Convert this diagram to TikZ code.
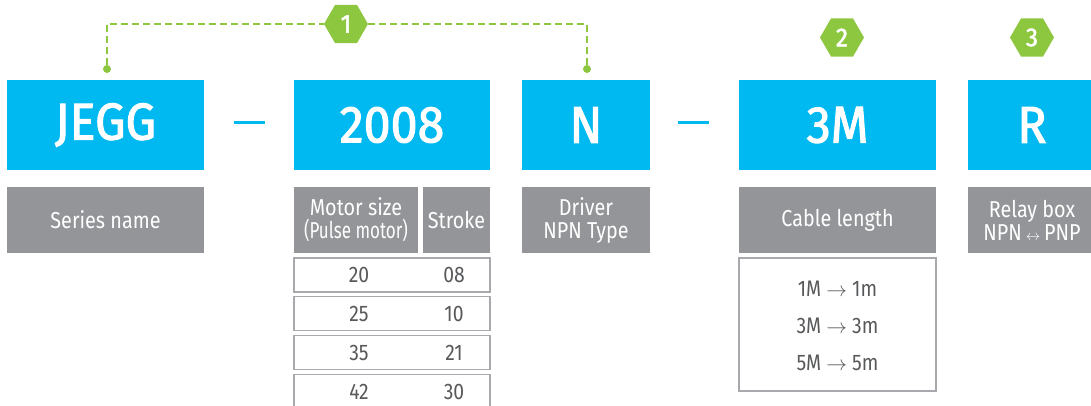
\documentclass[tikz,border=0pt]{standalone}
\usepackage{fontspec}
\setmainfont{Fira Sans}[FakeStretch=0.86]
\newfontfamily\bigfont{Fira Sans}[FakeBold=1.9, FakeStretch=0.93]
\usetikzlibrary{shapes.geometric}
\definecolor{cblue}{HTML}{00B9F1}
\definecolor{cgray}{HTML}{939598}
\definecolor{cgreen}{HTML}{8DC63F}
\definecolor{ctext}{HTML}{58595B}
\definecolor{cline}{HTML}{A7A9AC}
\begin{document}
\begin{tikzpicture}[x=1pt,y=-1pt,
 bluebox/.style={fill=cblue, text=white, inner sep=0, minimum height=90pt, font=\bigfont\fontsize{52}{52}\selectfont},
 graybox/.style={fill=cgray, text=white, inner sep=0, minimum height=66pt, align=center, font=\fontsize{23}{23}\selectfont},
 cell/.style={draw=cline, line width=1.2pt, fill=white, inner sep=0, minimum width=196pt, minimum height=34pt},
 celltext/.style={text=ctext, inner sep=0, font=\fontsize{22.5}{22.5}\selectfont},
 hexa/.style={regular polygon, regular polygon sides=6, fill=cgreen, text=white, minimum size=44pt, inner sep=0, font=\bigfont\fontsize{26}{26}\selectfont},
 dot/.style={circle, fill=cgreen, minimum size=8pt, inner sep=0},
 leader/.style={cgreen, dash pattern=on 7pt off 4pt, line width=2.2pt},
 hyph/.style={fill=cblue, inner sep=0, minimum width=31pt, minimum height=3pt}]
\useasboundingbox (0,0) rectangle (1091,406);
% blue code boxes
\node[bluebox, minimum width=197pt] (jegg) at (105.5,125) {JEGG};
\node[bluebox, minimum width=196pt] (size) at (392,125) {2008};
\node[bluebox, minimum width=128pt] (drv) at (586,125) {N};
\node[bluebox, minimum width=197pt] (cab) at (837.5,125) {3M};
\node[bluebox, minimum width=128pt] (rel) at (1032,125) {R};
% hyphens
\node[hyph] (hy1) at (249.5,123) {};
\node[hyph] (hy2) at (693,123) {};
% gray label boxes
\node[graybox, minimum width=197pt] (gser) at (105.5,220) {Series name};
\node[graybox, minimum width=124pt] (gmot) at (356,220) {Motor size\\\scalebox{0.86}[1]{(Pulse motor)}};
\node[graybox, minimum width=67pt] (gstr) at (456.5,220) {Stroke};
\node[graybox, minimum width=128pt] (gdrv) at (586,220) {Driver\\NPN Type};
\node[graybox, minimum width=197pt] (gcab) at (837.5,220) {Cable length};
\node[graybox, minimum width=128pt] (grel) at (1032,220) {Relay box\\NPN\,{\fontsize{15}{15}\selectfont$\leftrightarrow$}\,PNP};
% motor/stroke table
\node[cell] (r1) at (392,275) {};
\node[cell] (r2) at (392,313.5) {};
\node[cell] (r3) at (392,352.5) {};
\node[cell] (r4) at (392,391.5) {};
\node[celltext] (m1) at (359,275) {20};
\node[celltext] (s1) at (454,275) {08};
\node[celltext] (m2) at (359,313.5) {25};
\node[celltext] (s2) at (454,313.5) {10};
\node[celltext] (m3) at (359,352.5) {35};
\node[celltext] (s3) at (454,352.5) {21};
\node[celltext] (m4) at (359,391.5) {42};
\node[celltext] (s4) at (454,391.5) {30};
% cable table
\node[cell, minimum width=197pt, minimum height=133pt] (ctab) at (837.5,324.5) {};
\node[celltext] (c1) at (837.5,288.5) {1M $\rightarrow$ 1m};
\node[celltext] (c2) at (837.5,325.7) {3M $\rightarrow$ 3m};
\node[celltext] (c3) at (837.5,363) {5M $\rightarrow$ 5m};
% hexagon markers
\node[hexa] (h1) at (346,24) {1};
\node[hexa] (h2) at (842,37.5) {2};
\node[hexa] (h3) at (1032,37.5) {3};
% leader dots and dashed bracket
\node[dot] (d1) at (107,69) {};
\node[dot] (d2) at (587,69) {};
\draw[leader] (d1) |- (h1);
\draw[leader] (h1) -| (d2);
\end{tikzpicture}
\end{document}
